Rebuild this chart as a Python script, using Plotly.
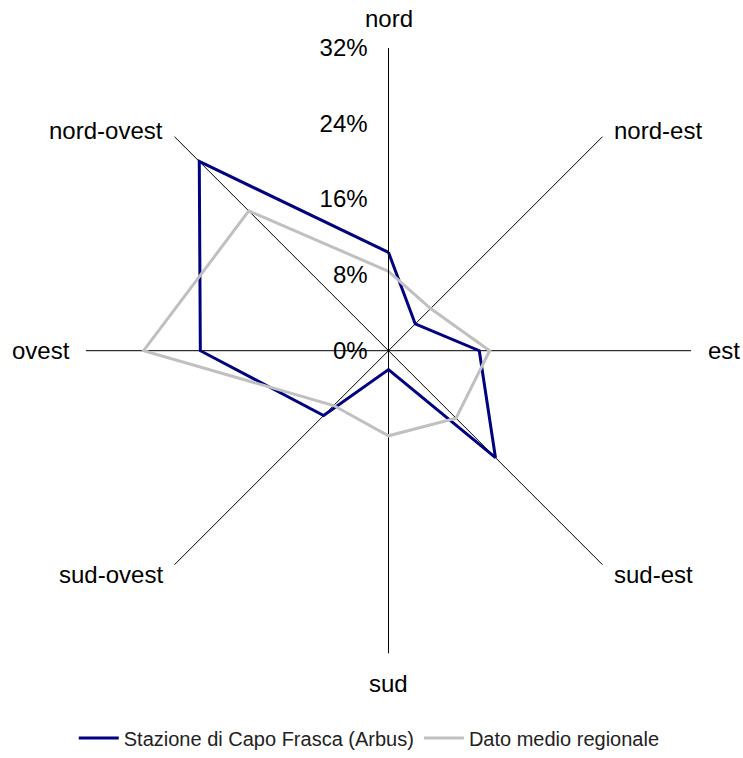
import math
import plotly.graph_objects as go

directions = ["nord", "nord-est", "est", "sud-est", "sud", "sud-ovest", "ovest", "nord-ovest"]
capo_frasca = [10.4, 4.0, 9.6, 16.0, 2.0, 9.7, 19.9, 28.3]
regionale = [8.4, 6.3, 10.7, 10.1, 9.0, 8.2, 25.9, 20.9]
radial_ticks = [0, 8, 16, 24, 32]
radial_labels = ["0%", "8%", "16%", "24%", "32%"]
series_names = ["Stazione di Capo Frasca (Arbus)", "Dato medio regionale"]

fig = go.Figure()
fig.add_trace(go.Scatterpolar(
    r=capo_frasca + capo_frasca[:1], theta=directions + directions[:1],
    mode="lines", name=series_names[0],
    line=dict(color="#000080", width=3)))
fig.add_trace(go.Scatterpolar(
    r=regionale + regionale[:1], theta=directions + directions[:1],
    mode="lines", name=series_names[1],
    line=dict(color="#C0C0C0", width=3)))

W, H = 743, 758
CX, CY = 388.5, 353.5  # polar centre in figure px
R = 305

# direction labels placed just beyond the end of each spoke (Excel-like placement)
annotations = []
for i, name in enumerate(directions):
    th = math.radians(90 - 45 * i)
    c, s = math.cos(th), math.sin(th)
    ex, ey = CX + R * c, CY - R * s
    if abs(c) < 0.1:
        x, xa = ex, "center"
        y = ey - 30 * math.copysign(1, s)
    elif abs(s) < 0.1:
        x, xa = ex + 12 * math.copysign(1, c), ("left" if c > 0 else "right")
        y = ey
    else:
        x, xa = ex + 8 * math.copysign(1, c), ("left" if c > 0 else "right")
        y = ey + (-6 if s > 0 else 10)
    annotations.append(dict(text=name, x=x / W, y=(H - y) / H, xref="paper", yref="paper",
                            xanchor=xa, yanchor="middle", showarrow=False,
                            font=dict(size=24, color="black")))

fig.update_layout(
    width=W, height=H,
    margin=dict(l=0, r=0, t=0, b=0),
    paper_bgcolor="white", plot_bgcolor="white",
    font=dict(family="Liberation Sans, Arial, sans-serif", color="black", size=24),
    showlegend=True,
    legend=dict(orientation="h", x=0.497, xanchor="center", y=(H - 744) / H,
                yanchor="middle", font=dict(size=20, color="#222222"), itemwidth=40),
    annotations=annotations,
    polar=dict(
        domain=dict(x=[(CX - R) / W, (CX + R) / W],
                    y=[(H - CY - R) / H, (H - CY + R) / H]),
        bgcolor="white",
        radialaxis=dict(range=[0, 32], tickmode="array", tickvals=radial_ticks,
                        ticktext=radial_labels,
                        angle=90, side="counterclockwise", showgrid=False,
                        showline=True, linecolor="black", linewidth=1,
                        ticks="outside", ticklen=12, tickcolor="rgba(0,0,0,0)",
                        tickfont=dict(size=24), tickangle=90),
        angularaxis=dict(direction="clockwise", rotation=90,
                         showline=False, showgrid=True, gridcolor="black", gridwidth=1,
                         ticks="", showticklabels=False),
    ),
)

# remove the browser's default 8px page margin so the figure fills the window exactly
fig.write_html(
    "out.html",
    config={"displayModeBar": False},
    post_script="document.body.style.margin='0';"
                "document.documentElement.style.overflow='hidden';",
)
